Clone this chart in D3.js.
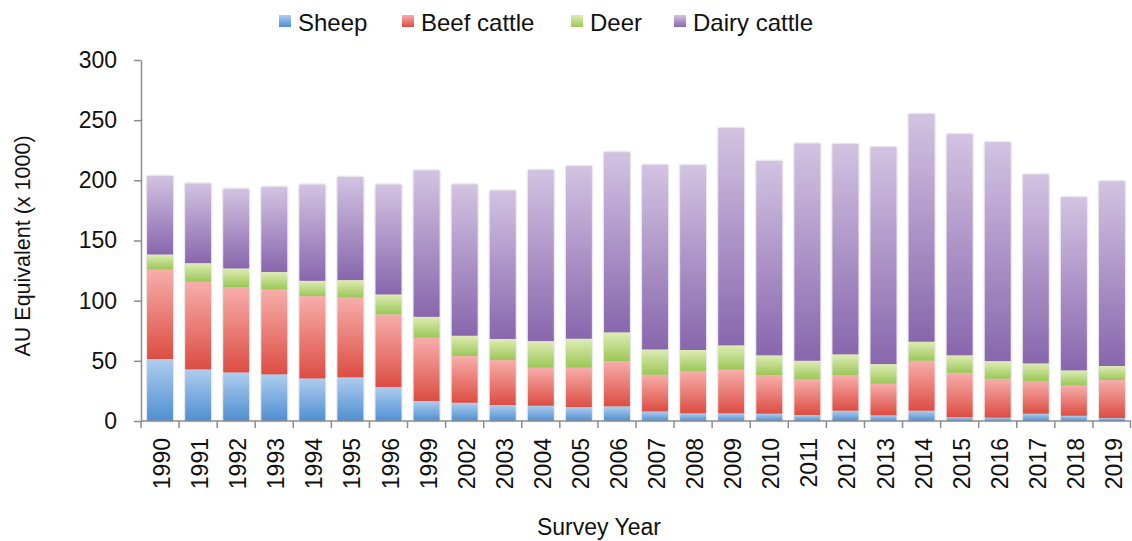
<!DOCTYPE html>
<html>
<head>
<meta charset="utf-8">
<script src="https://cdn.jsdelivr.net/npm/d3@7"></script>
<style>
  html, body { margin: 0; padding: 0; background: #fff; }
  svg { display: block; font-family: "Liberation Sans", Arial, sans-serif; }
</style>
</head>
<body>
<svg id="chart" width="1132" height="541"></svg>
<script>
// Survey years (x categories)
const years = ["1990","1991","1992","1993","1994","1995","1996","1999","2002","2003","2004","2005","2006","2007","2008","2009","2010","2011","2012","2013","2014","2015","2016","2017","2018","2019"];

// Animal-unit equivalents (x 1000) per stock class
const sheep  = [51.5,42.9,40.4,38.8,35.4,36.3,28.2,16.6,15.2,13.3,12.7,11.6,12.2,8.0,6.4,6.4,6.1,5.0,8.6,4.7,8.6,3.1,2.8,6.1,4.4,2.5];
const beef   = [74.5,72.8,70.9,70.6,68.4,66.4,60.4,52.6,38.8,37.4,31.6,32.7,37.6,30.5,35.1,36.2,32.1,29.6,29.4,26.3,41.5,37.0,32.3,27.1,25.2,31.6];
const deer   = [12.4,15.5,15.5,14.4,12.7,14.4,16.6,17.4,16.9,17.5,22.1,24.1,23.9,21.0,17.5,20.3,16.4,15.5,17.4,16.3,15.8,14.5,14.7,14.7,12.5,11.6];
const dairy  = [65.3,66.2,66.2,70.8,80.0,85.8,91.3,121.6,125.7,123.3,142.3,143.4,149.7,153.4,153.6,180.5,161.6,180.5,174.7,180.3,189.3,183.8,181.9,157.0,143.9,153.6];

const seriesNames = ["Sheep", "Beef cattle", "Deer", "Dairy cattle"];
const yTicks = [0, 50, 100, 150, 200, 250, 300];

// gradient stops (top light -> bottom dark) per series
const palette = [
  { key: "sheep", top: "#aecdee", bottom: "#4f8fd2" },
  { key: "beef",  top: "#f7aeab", bottom: "#dc4d43" },
  { key: "deer",  top: "#dfecb4", bottom: "#9bc757" },
  { key: "dairy", top: "#d3c3e2", bottom: "#8866ad" }
];

const table = years.map((y, i) => ({
  year: y, sheep: sheep[i], beef: beef[i], deer: deer[i], dairy: dairy[i]
}));
const keys = palette.map(p => p.key);
const stacked = d3.stack().keys(keys)(table);

const svg = d3.select("#chart");
const margin = { left: 141, right: 1, top: 60, bottom: 120 };
const W = 1132, H = 541;

const x = d3.scaleBand().domain(years).range([margin.left, W - margin.right]).paddingInner(0.32).paddingOuter(0.16);
const y = d3.scaleLinear().domain([0, 300]).range([H - margin.bottom, margin.top]);

const defs = svg.append("defs");
palette.forEach(p => {
  const g = defs.append("linearGradient").attr("id", "grad-" + p.key)
    .attr("x1", 0).attr("y1", 0).attr("x2", 0).attr("y2", 1);
  g.append("stop").attr("offset", "0%").attr("stop-color", p.top);
  g.append("stop").attr("offset", "100%").attr("stop-color", p.bottom);
});
const shadow = defs.append("filter").attr("id", "barShadow")
  .attr("x", "-20%").attr("y", "-5%").attr("width", "140%").attr("height", "110%");
shadow.append("feDropShadow").attr("dx", 0).attr("dy", 0).attr("stdDeviation", 1.3)
  .attr("flood-color", "#000").attr("flood-opacity", 0.3);

// stacked bars
const barGroup = svg.append("g");
const cols = barGroup.selectAll("g.col").data(years).join("g").attr("class", "col")
  .attr("filter", "url(#barShadow)");
stacked.forEach((layer, li) => {
  cols.append("rect")
    .attr("x", (d) => x(d))
    .attr("width", x.bandwidth())
    .attr("y", (d, i) => y(layer[i][1]))
    .attr("height", (d, i) => y(layer[i][0]) - y(layer[i][1]))
    .attr("fill", `url(#grad-${palette[li].key})`);
});

// axes
const axisColor = "#8c8c8c";
const yAxis = svg.append("g").attr("transform", `translate(${margin.left},0)`)
  .call(d3.axisLeft(y).tickValues(yTicks).tickSize(7).tickSizeOuter(0).tickPadding(17));
yAxis.select(".domain").attr("stroke", axisColor).attr("stroke-width", 1.5);
yAxis.selectAll(".tick line").attr("stroke", axisColor).attr("stroke-width", 1.5);
yAxis.selectAll(".tick text").attr("font-size", 23).attr("fill", "#111")
  .attr("font-family", "'Liberation Sans', Arial, sans-serif");

// x axis: baseline with ticks at category boundaries
const xAxis = svg.append("g").attr("transform", `translate(0,${y(0)})`);
xAxis.append("line").attr("x1", margin.left).attr("x2", W - margin.right)
  .attr("stroke", axisColor).attr("stroke-width", 1.5);
const step = x.step();
const boundaries = years.map((d) => x(d) - (step - x.bandwidth()) / 2).concat([W - margin.right - 0.5]);
xAxis.selectAll("line.tk").data(boundaries).join("line").attr("class", "tk")
  .attr("x1", d => d).attr("x2", d => d).attr("y1", 0).attr("y2", 7)
  .attr("stroke", axisColor).attr("stroke-width", 1.5);
xAxis.selectAll("text").data(years).join("text")
  .attr("transform", d => `translate(${x(d) + x.bandwidth() / 2 + 10},17) rotate(-90)`)
  .attr("text-anchor", "end")
  .attr("font-size", 23).attr("fill", "#111")
  .text(d => d);

// axis titles
svg.append("text")
  .attr("transform", `translate(30,246) rotate(-90)`)
  .attr("text-anchor", "middle").attr("font-size", 21.5).attr("fill", "#111")
  .text("AU Equivalent (x 1000)");
svg.append("text")
  .attr("x", 599).attr("y", 535)
  .attr("text-anchor", "middle").attr("font-size", 23).attr("fill", "#111")
  .text("Survey Year");

// legend
const legendX = [279, 402, 571, 674];
const legend = svg.append("g");
seriesNames.forEach((name, i) => {
  const g = legend.append("g").attr("transform", `translate(${legendX[i]},15)`);
  g.append("rect").attr("width", 12).attr("height", 12)
    .attr("fill", `url(#grad-${palette[i].key})`);
  g.append("text").attr("x", 19).attr("y", 15.5).attr("font-size", 24).attr("fill", "#111")
    .text(name);
});
</script>
</body>
</html>
